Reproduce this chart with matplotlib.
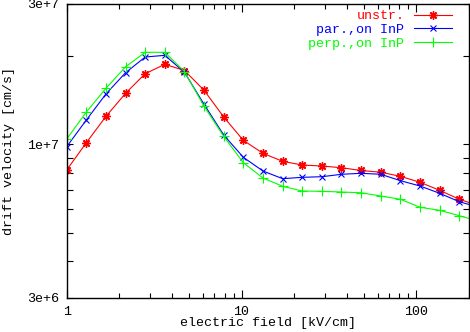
import matplotlib
matplotlib.use("Agg")
import matplotlib.pyplot as plt
from matplotlib.ticker import FixedLocator, NullFormatter, FixedFormatter

# electric field [kV/cm]
field = [1.0, 1.295, 1.677, 2.172, 2.812, 3.642, 4.716, 6.107, 7.909, 10.24,
         13.26, 17.18, 22.24, 28.8, 37.3, 48.3, 62.6, 81.0, 104.9, 135.9,
         176.0, 227.9]

unstr = [8.165e6, 1.011e7, 1.243e7, 1.490e7, 1.737e7, 1.870e7, 1.781e7, 1.525e7,
         1.237e7, 1.030e7, 9.307e6, 8.739e6, 8.489e6, 8.423e6, 8.311e6, 8.133e6,
         8.020e6, 7.771e6, 7.413e6, 6.962e6, 6.490e6, 6.163e6]

par_inp = [9.800e6, 1.208e7, 1.482e7, 1.751e7, 1.980e7, 2.006e7, 1.756e7, 1.366e7,
           1.074e7, 9.018e6, 8.100e6, 7.627e6, 7.709e6, 7.746e6, 7.894e6, 7.956e6,
           7.894e6, 7.509e6, 7.203e6, 6.801e6, 6.368e6, 6.091e6]

perp_inp = [1.041e7, 1.286e7, 1.549e7, 1.834e7, 2.054e7, 2.054e7, 1.767e7, 1.345e7,
            1.063e7, 8.645e6, 7.668e6, 7.186e6, 6.923e6, 6.907e6, 6.871e6, 6.828e6,
            6.659e6, 6.490e6, 6.095e6, 5.953e6, 5.706e6, 5.456e6]

labels = ["unstr.", "par.,on InP", "perp.,on InP"]
colors = ["#ff0000", "#0000ff", "#00ff00"]

x_major = [1, 10, 100]
x_major_labels = ["1", "10", "100"]
x_minor = [2, 3, 4, 5, 6, 7, 8, 9, 20, 30, 40, 50, 60, 70, 80, 90, 200]
y_major = [3e6, 1e7, 3e7]
y_major_labels = ["3e+6", "1e+7", "3e+7"]
y_minor = [4e6, 5e6, 6e6, 7e6, 8e6, 9e6, 2e7]

FONT = "Liberation Mono"
FS = 9.6

fig = plt.figure(figsize=(4.70, 3.32), dpi=100)
ax = fig.add_axes([66.7 / 470, 1 - 297.7 / 332, (469 - 66.7) / 470, (297.7 - 4) / 332])

lw = 0.8
ax.plot(field, unstr, color=colors[0], lw=lw, marker=(8, 2, 0), ms=6.0, mew=1.0,
        label=labels[0], clip_on=True)
ax.plot(field, par_inp, color=colors[1], lw=lw, marker="x", ms=5.0, mew=0.8,
        label=labels[1], clip_on=True)
ax.plot(field, perp_inp, color=colors[2], lw=lw, marker="+", ms=7.0, mew=0.8,
        label=labels[2], clip_on=True)

ax.set_xscale("log")
ax.set_yscale("log")
ax.set_xlim(1, 200)
ax.set_ylim(3e6, 3e7)

ax.xaxis.set_major_locator(FixedLocator(x_major))
ax.xaxis.set_major_formatter(FixedFormatter(x_major_labels))
ax.xaxis.set_minor_locator(FixedLocator(x_minor))
ax.xaxis.set_minor_formatter(NullFormatter())
ax.yaxis.set_major_locator(FixedLocator(y_major))
ax.yaxis.set_major_formatter(FixedFormatter(y_major_labels))
ax.yaxis.set_minor_locator(FixedLocator(y_minor))
ax.yaxis.set_minor_formatter(NullFormatter())

ax.tick_params(axis="both", which="both", direction="in", top=True, right=True,
               width=0.8, colors="black")
ax.tick_params(axis="x", which="major", length=6, pad=6.0)
ax.tick_params(axis="x", which="minor", length=3.5)
ax.tick_params(axis="y", which="major", length=4.5, pad=5.5)
ax.tick_params(axis="y", which="minor", length=4.5)
for lab in ax.get_xticklabels() + ax.get_yticklabels():
    lab.set_fontfamily(FONT)
    lab.set_fontsize(FS)

for sp in ax.spines.values():
    sp.set_linewidth(1.0)
    sp.set_color("black")

ax.set_xlabel("electric field [kV/cm]", fontfamily=FONT, fontsize=FS, labelpad=-0.5)
ax.set_ylabel("drift velocity [cm/s]", fontfamily=FONT, fontsize=FS, labelpad=9)

leg = ax.legend(loc="upper right", markerfirst=False, frameon=False,
                prop={"family": FONT, "size": FS}, labelcolor="linecolor",
                handlelength=2.85, handletextpad=0.75, labelspacing=0.1,
                borderaxespad=0.0, borderpad=0.0,
                bbox_to_anchor=(1 - 16.7 / 402.3, 1 - 6.0 / 293.7))

fig.savefig("out.png", dpi=100)
